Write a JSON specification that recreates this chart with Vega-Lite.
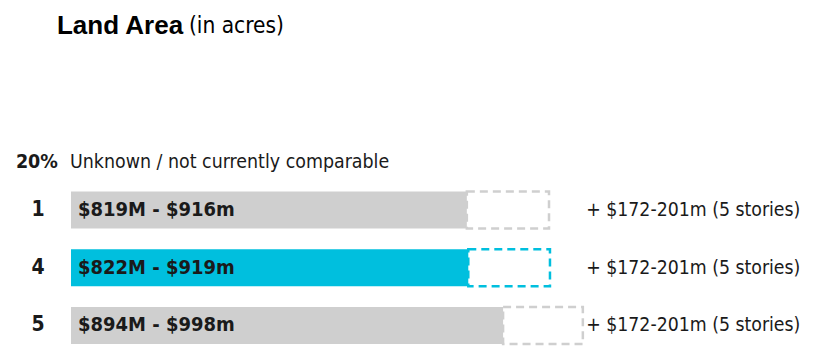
{
  "$schema": "https://vega.github.io/schema/vega-lite/v6.json",
  "width": 817,
  "height": 349,
  "autosize": {"type": "none"},
  "padding": 0,
  "background": "white",
  "config": {"view": {"stroke": null}},
  "datasets": {
    "bars": [
      {"rank": "1", "row": 1, "low": 819, "ext": 989, "label": "$819M - $916m", "note": "+ $172-201m (5 stories)", "group": "other"},
      {"rank": "4", "row": 2, "low": 822, "ext": 991, "label": "$822M - $919m", "note": "+ $172-201m (5 stories)", "group": "selected"},
      {"rank": "5", "row": 3, "low": 894, "ext": 1059, "label": "$894M - $998m", "note": "+ $172-201m (5 stories)", "group": "other"}
    ],
    "header": [{"pct": "20%", "label": "Unknown / not currently comparable"}],
    "title": [{"main": "Land Area", "unit": "(in acres)"}]
  },
  "layer": [
    {
      "data": {"name": "bars"},
      "transform": [{"calculate": "datum.row - 0.32", "as": "y0"}, {"calculate": "datum.row + 0.32", "as": "y1"}],
      "mark": {"type": "rect"},
      "encoding": {
        "x": {"field": "low", "type": "quantitative", "scale": {"domain": [-146.9, 1543.5], "nice": false, "zero": false}, "axis": null},
        "x2": {"datum": 0},
        "y": {"field": "y0", "type": "quantitative", "scale": {"domain": [-2.636, 3.407], "reverse": true, "nice": false, "zero": false}, "axis": null},
        "y2": {"field": "y1"},
        "color": {"field": "group", "type": "nominal", "scale": {"domain": ["other", "selected"], "range": ["#cfcfcf", "#00bfde"]}, "legend": null}
      }
    },
    {
      "data": {"name": "bars"},
      "transform": [{"calculate": "datum.row - 0.32", "as": "y0"}, {"calculate": "datum.row + 0.32", "as": "y1"}],
      "mark": {"type": "rect", "fill": "transparent", "strokeWidth": 2.5, "strokeDash": [8, 5]},
      "encoding": {
        "x": {"field": "low", "type": "quantitative", "scale": {"domain": [-146.9, 1543.5], "nice": false, "zero": false}, "axis": null},
        "x2": {"field": "ext"},
        "y": {"field": "y0", "type": "quantitative", "scale": {"domain": [-2.636, 3.407], "reverse": true, "nice": false, "zero": false}, "axis": null},
        "y2": {"field": "y1"},
        "stroke": {"field": "group", "type": "nominal", "scale": {"domain": ["other", "selected"], "range": ["#cfcfcf", "#00bfde"]}, "legend": null}
      }
    },
    {
      "data": {"name": "bars"},
      "mark": {"type": "text", "align": "left", "baseline": "middle", "font": "DejaVu Sans Condensed, Liberation Sans", "fontWeight": "bold", "fontSize": 20, "color": "#1a1a1a"},
      "encoding": {
        "x": {"datum": 14.5, "type": "quantitative", "scale": {"domain": [-146.9, 1543.5], "nice": false, "zero": false}, "axis": null},
        "y": {"field": "row", "type": "quantitative", "scale": {"domain": [-2.636, 3.407], "reverse": true, "nice": false, "zero": false}, "axis": null},
        "text": {"field": "label"}
      }
    },
    {
      "data": {"name": "bars"},
      "mark": {"type": "text", "align": "center", "baseline": "middle", "font": "DejaVu Sans Condensed, Liberation Sans", "fontWeight": "bold", "fontSize": 21, "color": "#1a1a1a"},
      "encoding": {
        "x": {"datum": -68, "type": "quantitative", "scale": {"domain": [-146.9, 1543.5], "nice": false, "zero": false}, "axis": null},
        "y": {"field": "row", "type": "quantitative", "scale": {"domain": [-2.636, 3.407], "reverse": true, "nice": false, "zero": false}, "axis": null},
        "text": {"field": "rank"}
      }
    },
    {
      "data": {"name": "bars"},
      "mark": {"type": "text", "align": "left", "baseline": "middle", "font": "DejaVu Sans Condensed, Liberation Sans", "fontSize": 19.3, "color": "#1a1a1a"},
      "encoding": {
        "x": {"datum": 1066, "type": "quantitative", "scale": {"domain": [-146.9, 1543.5], "nice": false, "zero": false}, "axis": null},
        "y": {"field": "row", "type": "quantitative", "scale": {"domain": [-2.636, 3.407], "reverse": true, "nice": false, "zero": false}, "axis": null},
        "text": {"field": "note"}
      }
    },
    {
      "data": {"name": "header"},
      "mark": {"type": "text", "align": "left", "baseline": "middle", "font": "DejaVu Sans Condensed, Liberation Sans", "fontWeight": "bold", "fontSize": 19.5, "color": "#1a1a1a"},
      "encoding": {
        "x": {"datum": -114, "type": "quantitative", "scale": {"domain": [-146.9, 1543.5], "nice": false, "zero": false}, "axis": null},
        "y": {"datum": 0.169, "type": "quantitative", "scale": {"domain": [-2.636, 3.407], "reverse": true, "nice": false, "zero": false}, "axis": null},
        "text": {"field": "pct"}
      }
    },
    {
      "data": {"name": "header"},
      "mark": {"type": "text", "align": "left", "baseline": "middle", "font": "DejaVu Sans Condensed, Liberation Sans", "fontSize": 19.4, "color": "#1a1a1a"},
      "encoding": {
        "x": {"datum": -2, "type": "quantitative", "scale": {"domain": [-146.9, 1543.5], "nice": false, "zero": false}, "axis": null},
        "y": {"datum": 0.169, "type": "quantitative", "scale": {"domain": [-2.636, 3.407], "reverse": true, "nice": false, "zero": false}, "axis": null},
        "text": {"field": "label"}
      }
    },
    {
      "data": {"name": "title"},
      "mark": {"type": "text", "align": "left", "baseline": "middle", "font": "Liberation Sans", "fontWeight": "bold", "fontSize": 26, "color": "#000000"},
      "encoding": {
        "x": {"datum": -29, "type": "quantitative", "scale": {"domain": [-146.9, 1543.5], "nice": false, "zero": false}, "axis": null},
        "y": {"datum": -2.186, "type": "quantitative", "scale": {"domain": [-2.636, 3.407], "reverse": true, "nice": false, "zero": false}, "axis": null},
        "text": {"field": "main"}
      }
    },
    {
      "data": {"name": "title"},
      "mark": {"type": "text", "align": "left", "baseline": "middle", "font": "DejaVu Sans Condensed, Liberation Sans", "fontSize": 22.5, "color": "#000000"},
      "encoding": {
        "x": {"datum": 244, "type": "quantitative", "scale": {"domain": [-146.9, 1543.5], "nice": false, "zero": false}, "axis": null},
        "y": {"datum": -2.186, "type": "quantitative", "scale": {"domain": [-2.636, 3.407], "reverse": true, "nice": false, "zero": false}, "axis": null},
        "text": {"field": "unit"}
      }
    }
  ]
}
